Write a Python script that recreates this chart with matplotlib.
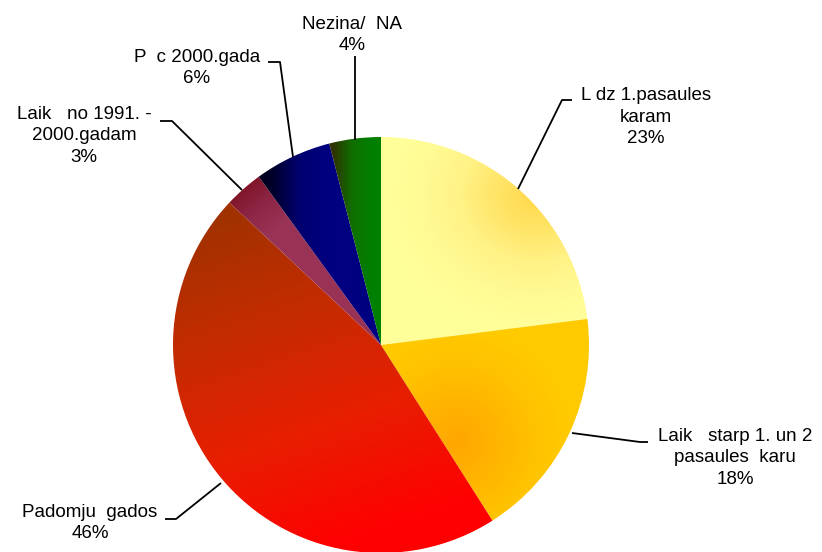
import numpy as np
import matplotlib
matplotlib.use("Agg")
import matplotlib.pyplot as plt
from matplotlib.colors import LinearSegmentedColormap

# ---- data ----
labels = ["L dz 1.pasaules\nkaram", "Laik   starp 1. un 2\npasaules  karu",
          "Padomju  gados", "Laik   no 1991. -\n2000.gadam", "P  c 2000.gada",
          "Nezina/  NA"]
values = [23, 18, 46, 3, 6, 4]

W, H = 822, 552
CX, CY, R = 381, 345, 208   # pie centre / radius in pixels

def P(x, y):
    return (x, H - y)

fig = plt.figure(figsize=(W / 100, H / 100), dpi=100)
ax = fig.add_axes([0, 0, 1, 1])
plt.rcParams['font.family'] = ['Liberation Sans', 'DejaVu Sans']

wedges, _ = ax.pie(values, startangle=90, counterclock=False, center=P(CX, CY),
                   radius=R, wedgeprops=dict(linewidth=0, facecolor='none'))
ax.set_xlim(0, W)
ax.set_ylim(0, H)
ax.set_aspect('auto')
ax.axis('off')

# pixel grid over pie bbox
xs = np.arange(CX - R, CX + R) + 0.5
ys = np.arange(CY - R, CY + R) + 0.5
X, Y = np.meshgrid(xs, ys)
extent = (CX - R, CX + R, H - (CY + R), H - (CY - R))

def lin(p0, p1):
    (x0, y0), (x1, y1) = p0, p1
    dx, dy = x1 - x0, y1 - y0
    t = ((X - x0) * dx + (Y - y0) * dy) / (dx * dx + dy * dy)
    return np.clip(t, 0, 1)

def rad(c, rx, ry):
    d = np.hypot((X - c[0]) / rx, (Y - c[1]) / ry)
    return np.clip(d, 0, 1)

grads = [
    (rad((535, 195), 150, 135), ["#FFD84A", "#FFE466", "#FFF286", "#FFFA94", "#FFFF99"]),
    (rad((457, 442), 115, 120), ["#FFA600", "#FFB400", "#FFC200", "#FFCB00"]),
    (lin((215, 215), (330, 550)), ["#A03200", "#C42C00", "#E81E00", "#FF0000"]),
    (lin((232, 190), (268, 235)), ["#7E1020", "#8C2545", "#993355"]),
    (lin((268, 170), (330, 170)), ["#000020", "#000070", "#000080"]),
    (lin((332, 160), (372, 160)), ["#303000", "#107000", "#008000"]),
]

for w, (t, cols) in zip(wedges, grads):
    cmap = LinearSegmentedColormap.from_list("g", cols)
    im = ax.imshow(t, cmap=cmap, vmin=0, vmax=1, extent=extent, origin='upper',
                   interpolation='bilinear', zorder=1)
    im.set_clip_path(w)

# labels
fs = 13.5
texts = [
    (646, 117, "L dz 1.pasaules\nkaram\n23%"),
    (735, 458, "Laik   starp 1. un 2\npasaules  karu\n18%"),
    (90, 523, "Padomju  gados\n46%"),
    (84, 136, "Laik   no 1991. -\n2000.gadam\n3%"),
    (197, 68, "P  c 2000.gada\n6%"),
    (352, 35, "Nezina/  NA\n4%"),
]
for x, y, s in texts:
    ax.text(*P(x, y), s, ha='center', va='center', fontsize=fs, color='#000000',
            linespacing=1.38, zorder=3)

# leader lines (pixel coords)
leaders = [
    [(518, 189), (562, 100), (572, 100)],
    [(572, 433), (640, 442), (648, 442)],
    [(221, 483), (176, 519), (165, 519)],
    [(242, 190), (172, 121), (160, 121)],
    [(293, 157), (280, 62), (268, 62)],
    [(355, 140), (355, 56)],
]
for pts in leaders:
    xx = [p[0] for p in pts]
    yy = [H - p[1] for p in pts]
    ax.plot(xx, yy, color='black', lw=1.3, zorder=2, solid_capstyle='butt')

fig.savefig("out.png", dpi=100)
